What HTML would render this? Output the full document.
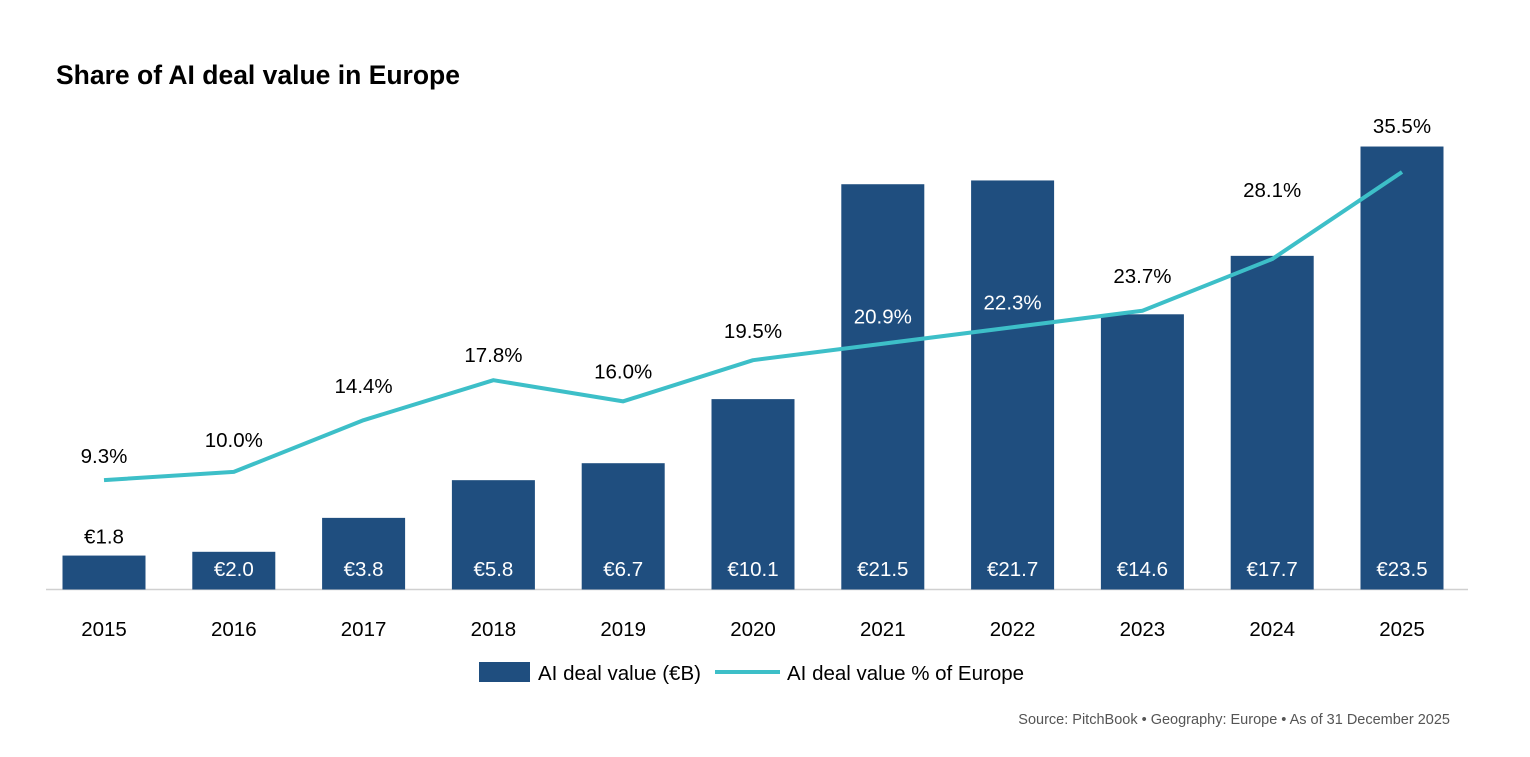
<!DOCTYPE html>
<html><head><meta charset="utf-8"><style>
body{margin:0;background:#fff;width:1530px;height:752px;overflow:hidden;font-family:"Liberation Sans",sans-serif}
</style></head><body>
<svg id="chart" width="1530" height="752" xmlns="http://www.w3.org/2000/svg" font-family="Liberation Sans, sans-serif">
<text x="56" y="84" font-size="26.5" font-weight="bold" fill="#000">Share of AI deal value in Europe</text>
<line x1="46" y1="589.5" x2="1468" y2="589.5" stroke="#d0d0d0" stroke-width="1.5"/>
<g id="bars"></g><g id="line"></g><g id="labels"></g>
<g>
<rect x="479" y="662" width="51" height="20" fill="#1f4e7f"/>
<text x="538" y="680" font-size="20.5" fill="#000">AI deal value (€B)</text>
<line x1="715" y1="672" x2="780" y2="672" stroke="#3dbfc8" stroke-width="4"/>
<text x="787" y="680" font-size="20.5" fill="#000">AI deal value % of Europe</text>
</g>
<text x="1450" y="724" font-size="14.5" fill="#555" text-anchor="end">Source: PitchBook  •  Geography: Europe  •  As of 31 December 2025</text>
</svg>
<script>
const years=["2015","2016","2017","2018","2019","2020","2021","2022","2023","2024","2025"];
const dealValues=[1.8,2.0,3.8,5.8,6.7,10.1,21.5,21.7,14.6,17.7,23.5];
const sharePct=[9.3,10.0,14.4,17.8,16.0,19.5,20.9,22.3,23.7,28.1,35.5];
const labelOffsets=[24,32,34,25,30,29,27,25,35,69,46];
const NS="http://www.w3.org/2000/svg";
const base=589.5;
function x(i){return 104+i*129.8;}
function yBar(v){return base-v*18.85;}
function yPct(v){return base-v*11.76;}
function mk(t,a,p){const e=document.createElementNS(NS,t);for(const k in a)e.setAttribute(k,a[k]);p.appendChild(e);return e;}
const gb=document.getElementById('bars'),gl=document.getElementById('line'),gt=document.getElementById('labels');
years.forEach((yr,i)=>{
 const top=yBar(dealValues[i]);
 const r=mk('rect',{x:x(i)-41.5,y:top,width:83,height:base-top,fill:'#1f4e7f'},gb);
 
 
 const inside=(base-top)>36;
 const vt=mk('text',{x:x(i),y:inside?576:top-12,'font-size':20.5,'text-anchor':'middle',fill:inside?'#fff':'#000'},gt);
 vt.textContent='€'+dealValues[i].toFixed(1);
 
 
 const xt=mk('text',{x:x(i),y:636,'font-size':20.5,'text-anchor':'middle',fill:'#000'},gt);
 xt.textContent=yr;
 
 
});
const pts=sharePct.map((v,i)=>x(i)+','+yPct(v)).join(' ');
const pl=mk('polyline',{points:pts,fill:'none',stroke:'#3dbfc8','stroke-width':4,'stroke-linejoin':'round'},gl);


sharePct.forEach((v,i)=>{
 const ly=yPct(v)-labelOffsets[i];
 const inBar=ly>yBar(dealValues[i])+10;
 const t=mk('text',{x:x(i),y:ly+7,'font-size':20.5,'text-anchor':'middle',fill:inBar?'#fff':'#000'},gt);
 t.textContent=v.toFixed(1)+'%';
 
 
});
</script>
</body></html>
